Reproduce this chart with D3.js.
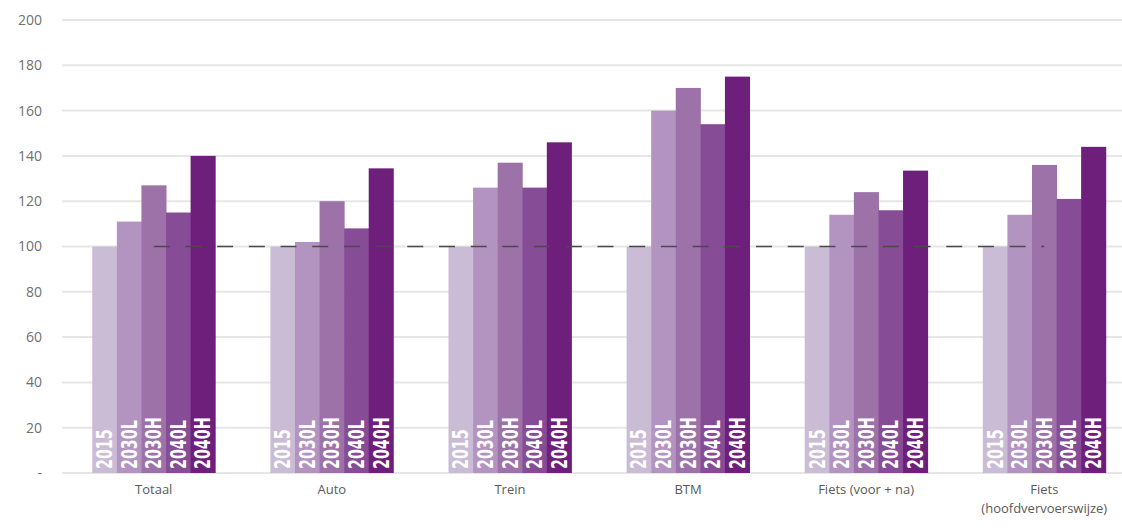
<!DOCTYPE html>
<html lang="nl">
<head>
<meta charset="utf-8">
<title>Groei per modaliteit</title>
<script src="https://cdn.jsdelivr.net/npm/d3@7"></script>
<style>
  body { margin: 0; background: #fff; }
  svg { display: block; }
  .tick-label { font-family: "Open Sans", sans-serif; font-size: 14px; fill: #707070; }
  .cat-label { font-family: "Open Sans", sans-serif; font-size: 13px; fill: #5a5a5a; }
  .bar-label { font-family: "DejaVu Sans", sans-serif; font-weight: bold; font-size: 21px; fill: #fff; }
</style>
</head>
<body>
<svg id="chart" width="1122" height="528"></svg>
<script>
// data (index, 2015 = 100)
const categories = ["Totaal", "Auto", "Trein", "BTM", "Fiets (voor + na)", "Fiets (hoofdvervoerswijze)"];
const scenarios = ["2015", "2030L", "2030H", "2040L", "2040H"];
const totaal = [100, 111, 127, 115, 140];
const auto = [100, 102, 120, 108, 134.5];
const trein = [100, 126, 137, 126, 146];
const btm = [100, 160, 170, 154, 175];
const fietsVoorNa = [100, 114, 124, 116, 133.5];
const fietsHoofd = [100, 114, 136, 121, 144];
const yTicks = [0, 20, 40, 60, 80, 100, 120, 140, 160, 180, 200];
const baseline = 100;

const series = [totaal, auto, trein, btm, fietsVoorNa, fietsHoofd];
const colors = ["#cbbcd5", "#b394c1", "#9c72a9", "#874c96", "#6e1f7c"];

const svg = d3.select("#chart");

let x = d3.scaleBand()
  .domain(categories)
  .range([62, 1136])
  .paddingInner(0.31)
  .paddingOuter(0.17);

let xs = d3.scaleBand()
  .domain(scenarios)
  .range([0, x.bandwidth()]);

let y = d3.scaleLinear()
  .domain([0, 200])
  .range([473, 20]);

// gridlines
svg.append("g")
  .selectAll("line")
  .data(yTicks)
  .enter()
  .append("line")
  .attr("x1", 62)
  .attr("x2", 1122)
  .attr("y1", d => y(d))
  .attr("y2", d => y(d))
  .attr("stroke", "#e6e6e6")
  .attr("stroke-width", 2);

// y tick labels
svg.append("g")
  .selectAll("text")
  .data(yTicks)
  .enter()
  .append("text")
  .attr("class", "tick-label")
  .attr("x", 42)
  .attr("y", d => y(d))
  .attr("dy", "0.35em")
  .attr("text-anchor", "end")
  .text(d => d === 0 ? "-" : d);

// bars
let groups = svg.append("g")
  .selectAll("g")
  .data(categories.map((c, i) => ({ cat: c, vals: series[i] })))
  .enter()
  .append("g")
  .attr("transform", d => `translate(${x(d.cat)},0)`);

groups.selectAll("rect")
  .data(d => d.vals.map((v, j) => ({ key: scenarios[j], v: v, j: j })))
  .enter()
  .append("rect")
  .attr("x", d => xs(d.key))
  .attr("width", xs.bandwidth() + 0.5)
  .attr("y", d => y(d.v))
  .attr("height", d => y(0) - y(d.v))
  .attr("fill", d => colors[d.j]);

// rotated scenario names, squeezed along the text to look condensed
groups.selectAll("text")
  .data(scenarios)
  .enter()
  .append("text")
  .attr("class", "bar-label")
  .attr("transform", d => `translate(${xs(d) + xs.bandwidth() / 2},${y(0) - 4}) rotate(-90) scale(0.68,1)`)
  .attr("dy", "0.36em")
  .text(d => d);

// dashed reference line at 100
svg.append("line")
  .attr("x1", x(categories[0]) + x.bandwidth() / 2)
  .attr("x2", x(categories[categories.length - 1]) + x.bandwidth() / 2)
  .attr("y1", y(baseline))
  .attr("y2", y(baseline))
  .attr("stroke", "#4a4a4a")
  .attr("stroke-width", 1.6)
  .attr("stroke-dasharray", "16,15.7");

// category labels
svg.append("g")
  .selectAll("text")
  .data(categories)
  .enter()
  .append("text")
  .attr("class", "cat-label")
  .attr("x", d => x(d) + x.bandwidth() / 2)
  .attr("y", 494)
  .attr("text-anchor", "middle")
  .each(function(d) {
    let parts = d === "Fiets (hoofdvervoerswijze)" ? ["Fiets", "(hoofdvervoerswijze)"] : [d];
    d3.select(this).selectAll("tspan")
      .data(parts)
      .enter()
      .append("tspan")
      .attr("x", x(d) + x.bandwidth() / 2)
      .attr("dy", (p, k) => k === 0 ? 0 : 19)
      .text(p => p);
  });
</script>
</body>
</html>
